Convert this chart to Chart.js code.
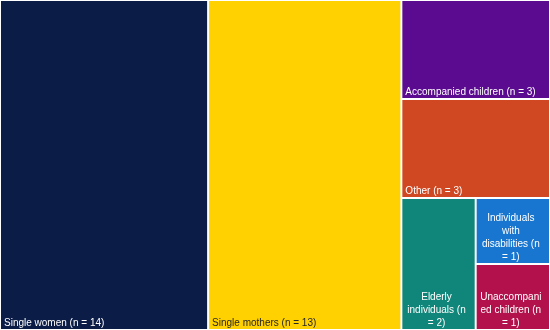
<!DOCTYPE html>
<html>
<head>
<meta charset="utf-8">
<script src="https://cdn.jsdelivr.net/npm/chart.js@4/dist/chart.umd.min.js"></script>
<style>
html,body{margin:0;padding:0;background:#fff;}
#wrap{width:550px;height:330px;}
</style>
</head>
<body>
<div id="wrap"><canvas id="c" width="550" height="330"></canvas></div>
<script>
const categories = ['Single women','Single mothers','Accompanied children','Other','Elderly individuals','Individuals with disabilities','Unaccompanied children'];
const counts = [14,13,3,3,2,1,1];
const fillColors = ['#0b1c47','#ffd100','#5a0b8f','#cf4822','#10867a','#1876d1','#b3114b'];
const textColors = ['#ffffff','#262626','#ffffff','#ffffff','#ffffff','#ffffff','#ffffff'];

function worst(row, s){
  let sum=0,mx=-Infinity,mn=Infinity;
  for(const a of row){sum+=a;mx=Math.max(mx,a);mn=Math.min(mn,a);}
  return Math.max(s*s*mx/(sum*sum),(sum*sum)/(s*s*mn));
}
function squarify(values,x,y,w,h){
  const total=values.reduce((a,b)=>a+b,0);
  const areas=values.map(v=>v*w*h/total);
  const out=[];let i=0;
  while(i<areas.length){
    const s=Math.min(w,h);
    const row=[areas[i]];let j=i+1;
    while(j<areas.length && worst(row.concat(areas[j]),s)<=worst(row,s)){row.push(areas[j]);j++;}
    const rs=row.reduce((a,b)=>a+b,0);
    if(w>=h){
      const cw=rs/h;let yy=y;
      for(const a of row){const rh=a/cw;out.push({x:x,y:yy,w:cw,h:rh});yy+=rh;}
      x+=cw;w-=cw;
    }else{
      const rh=rs/w;let xx=x;
      for(const a of row){const rw=a/rh;out.push({x:xx,y:y,w:rw,h:rh});xx+=rw;}
      y+=rh;h-=rh;
    }
    i=j;
  }
  return out;
}
function wrapText(ctx,text,maxW){
  const words=text.split(' ');const lines=[];let cur='';
  for(let word of words){
    const test=cur?cur+' '+word:word;
    if(ctx.measureText(test).width<=maxW){cur=test;continue;}
    if(cur){lines.push(cur);cur='';}
    while(ctx.measureText(word).width>maxW){
      let k=word.length;
      while(k>1 && ctx.measureText(word.slice(0,k)).width>maxW)k--;
      lines.push(word.slice(0,k));word=word.slice(k);
    }
    cur=word;
  }
  if(cur)lines.push(cur);
  return lines;
}

const treemapPlugin={
  id:'treemapCells',
  afterDatasetsDraw(chart){
    const ctx=chart.ctx;const ca=chart.chartArea;
    const xs=chart.scales.x, ys=chart.scales.y;
    const W=ca.right-ca.left, H=ca.bottom-ca.top;
    const rects=squarify(counts,0,0,W,H);
    ctx.save();
    ctx.font='10px "Liberation Sans", Arial, sans-serif';
    rects.forEach((r,i)=>{
      const x0=xs.getPixelForValue(r.x/W), x1=xs.getPixelForValue((r.x+r.w)/W);
      const y0=ys.getPixelForValue(r.y/H), y1=ys.getPixelForValue((r.y+r.h)/H);
      const L=Math.min(x0,x1)+1, R=Math.max(x0,x1)-1, T=Math.min(y0,y1)+1, B=Math.max(y0,y1)-1;
      ctx.fillStyle=fillColors[i];
      ctx.fillRect(L,T,R-L,B-T);
      const label=categories[i]+' (n = '+counts[i]+')';
      const lines=wrapText(ctx,label,(R-L)-8);
      ctx.save();
      ctx.beginPath();ctx.rect(L,T,R-L,B-T);ctx.clip();
      ctx.fillStyle=textColors[i];
      ctx.textBaseline='alphabetic';
      const lh=13;
      lines.forEach((ln,k)=>{
        const by=B-3-(lines.length-1-k)*lh;
        if(lines.length===1){ctx.textAlign='left';ctx.fillText(ln,L+3,by);}
        else{ctx.textAlign='center';ctx.fillText(ln,(L+R)/2-2,by);}
      });
      ctx.restore();
    });
    ctx.restore();
  }
};

new Chart(document.getElementById('c'),{
  type:'scatter',
  data:{datasets:[{label:'cells',data:[],pointRadius:0}]},
  options:{
    responsive:false,animation:false,devicePixelRatio:1,
    layout:{padding:0},
    plugins:{legend:{display:false},tooltip:{enabled:false}},
    scales:{
      x:{type:'linear',min:0,max:1,display:false},
      y:{type:'linear',min:0,max:1,reverse:true,display:false}
    }
  },
  plugins:[treemapPlugin]
});
</script>
</body>
</html>
